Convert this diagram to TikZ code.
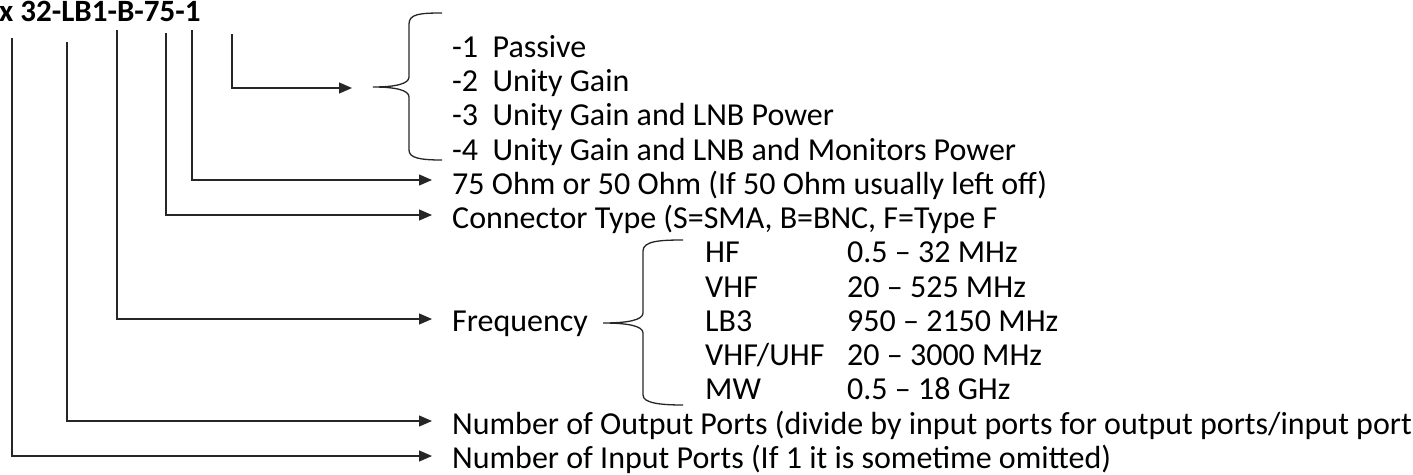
\documentclass[tikz,border=0pt]{standalone}
\usepackage{fontspec}
\setmainfont{Carlito}
\usetikzlibrary{arrows.meta}
\begin{document}
\begin{tikzpicture}[x=1pt,y=-1pt,
  conn/.style={line width=1.3pt, draw=black!85},
  arr/.style={conn,-{Triangle[length=13pt,width=11pt]}},
  lbl/.style={anchor=base west, inner sep=0pt, font=\fontsize{32}{34}\selectfont},
  ttl/.style={anchor=base west, inner sep=0pt, font=\fontsize{31}{34}\selectfont\bfseries},
  brc/.style={line width=1.3pt, draw=black!85}]
\useasboundingbox (0,0) rectangle (1413,474);

% title
\node[ttl] (title) at (-1,21) {x 32-LB1-B-75-1};

% top ends of the vertical lines
\coordinate (t1) at (12,38);
\coordinate (t2) at (67,42);
\coordinate (t3) at (117,30);
\coordinate (t4) at (166,33);
\coordinate (t5) at (192,30);
\coordinate (t6) at (232,34);

% arrow ends
\coordinate (e6) at (352,88);
\coordinate (e5) at (432,180);
\coordinate (e4) at (432,215);
\coordinate (e3) at (432,319);
\coordinate (e2) at (432,421);
\coordinate (e1) at (432,456);

% texts
\node[lbl] (o1) at (452,57) {-1~~Passive};
\node[lbl] (o2) at (452,91) {-2~~Unity Gain};
\node[lbl] (o3) at (452,125.5) {-3~~Unity Gain and LNB Power};
\node[lbl] (o4) at (452,160) {-4~~Unity Gain and LNB and Monitors Power};
\node[lbl] (ohm) at (452,194) {75 Ohm or 50 Ohm (If 50 Ohm usually left off)};
\node[lbl] (con) at (452,228) {Connector Type (S=SMA, B=BNC, F=Type F};
\node[lbl] (freq) at (452,331) {Frequency};
\node[lbl] (f1) at (705,262.5) {HF};
\node[lbl] (f2) at (705,297) {VHF};
\node[lbl] (f3) at (705,331) {LB3};
\node[lbl] (f4) at (705,365) {VHF/UHF};
\node[lbl] (f5) at (705,399.5) {MW};
\node[lbl] (v1) at (847,262.5) {0.5 – 32 MHz};
\node[lbl] (v2) at (847,297) {20 – 525 MHz};
\node[lbl] (v3) at (847,331) {950 – 2150 MHz};
\node[lbl] (v4) at (847,365) {20 – 3000 MHz};
\node[lbl] (v5) at (847,399.5) {0.5 – 18 GHz};
\node[lbl] (out) at (452,434) {Number of Output Ports (divide by input ports for output ports/input port};
\node[lbl] (in) at (452,468) {Number of Input Ports (If 1 it is sometime omitted)};

% connectors
\draw[arr] (t6) |- (e6);
\draw[arr] (t5) |- (e5);
\draw[arr] (t4) |- (e4);
\draw[arr] (t3) |- (e3);
\draw[arr] (t2) |- (e2);
\draw[arr] (t1) |- (e1);

% brace 1
\draw[brc] (442,13) .. controls (420,13) and (409,14) .. (409,24) -- (409,77)
  .. controls (409,84) and (395,87) .. (373,87)
  .. controls (395,87) and (409,90) .. (409,97) -- (409,150)
  .. controls (409,158) and (420,160) .. (442,160);

% brace 2
\draw[brc] (683,240) .. controls (660,240) and (643,241) .. (643,251) -- (643,313)
  .. controls (643,320) and (628,323) .. (603,323)
  .. controls (628,323) and (643,326) .. (643,333) -- (643,395)
  .. controls (643,403) and (660,405) .. (683,405);
\end{tikzpicture}
\end{document}
